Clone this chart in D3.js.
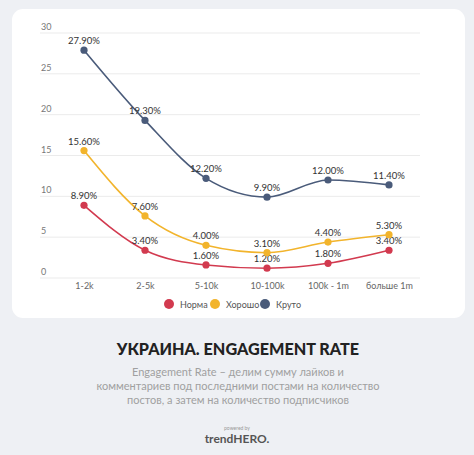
<!DOCTYPE html>
<html><head><meta charset="utf-8">
<script src="https://cdn.jsdelivr.net/npm/d3@7"></script>
<style>
html,body{margin:0;padding:0;background:#eef0f4;}
svg{display:block;}
</style></head>
<body>
<svg id="c" width="474" height="455"></svg>
<script>
const categories = ["1-2k","2-5k","5-10k","10-100k","100k - 1m","больше 1m"];
const norma  = [8.9, 3.4, 1.6, 1.2, 1.8, 3.4];
const horosho = [15.6, 7.6, 4.0, 3.1, 4.4, 5.3];
const kruto  = [27.9, 19.3, 12.2, 9.9, 12.0, 11.4];
const seriesNames = ["Норма","Хорошо","Круто"];
const colors = ["#d23a4f","#f2b42c","#4a5b7a"];
const yTicks = [0,5,10,15,20,25,30];

const series = [norma, horosho, kruto];
const svg = d3.select("#c");
svg.append("rect").attr("width",474).attr("height",455).attr("fill","#eef0f4");
svg.append("rect").attr("x",12).attr("y",9).attr("width",453).attr("height",309).attr("rx",11).attr("fill","#ffffff");

const x = d3.scalePoint().domain(categories).range([84,389]);
const y = d3.scaleLinear().domain([0,30]).range([278,33]);

const g = svg.append("g");
g.selectAll("line.grid").data(yTicks).join("line")
  .attr("x1",40).attr("x2",420)
  .attr("y1",d=>y(d)).attr("y2",d=>y(d))
  .attr("stroke","#ebebeb").attr("stroke-width",1);
g.selectAll("text.yl").data(yTicks).join("text")
  .attr("x",41).attr("y",d=>y(d)-3)
  .attr("font-family","Lato, 'Open Sans', sans-serif").attr("font-size",9)
  .attr("fill","#777").text(d=>d);

const xAxis = d3.axisBottom(x).tickSize(0).tickPadding(0);
const xg = svg.append("g").attr("transform","translate(0,283)").call(xAxis);
xg.select(".domain").remove();
xg.selectAll("text").attr("font-family","Lato, 'Open Sans', sans-serif").attr("font-size",9).attr("fill","#666");

const line = d3.line().x((d,i)=>x(categories[i])).y(d=>y(d)).curve(d3.curveMonotoneX);
series.forEach((s,k)=>{
  svg.append("path").datum(s).attr("d",line).attr("fill","none").attr("stroke",colors[k]).attr("stroke-width",1.6);
});
series.forEach((s,k)=>{
  const sg = svg.append("g");
  sg.selectAll("circle").data(s).join("circle")
    .attr("cx",(d,i)=>x(categories[i])).attr("cy",d=>y(d)).attr("r",3.6).attr("fill",colors[k]);
  sg.selectAll("text").data(s).join("text")
    .attr("x",(d,i)=>x(categories[i])).attr("y",d=>y(d)-6)
    .attr("text-anchor","middle")
    .attr("font-family","Lato, 'Open Sans', sans-serif").attr("font-size",9.5)
    .attr("fill","#333").text(d=>d.toFixed(2)+"%");
});

const legX = [169,215,265];
seriesNames.forEach((n,k)=>{
  svg.append("circle").attr("cx",legX[k]).attr("cy",304).attr("r",5).attr("fill",colors[k]);
  svg.append("text").attr("x",legX[k]+11).attr("y",307.5)
    .attr("font-family","Lato, 'Open Sans', sans-serif").attr("font-size",9).attr("fill","#555").text(n);
});

svg.append("text").attr("x",238).attr("y",355).attr("text-anchor","middle")
  .attr("font-family","Lato, sans-serif").attr("font-weight",900).attr("font-size",16.2)
  .attr("fill","#222").text("УКРАИНА. ENGAGEMENT RATE");
const sub = ["Engagement Rate – делим сумму лайков и","комментариев под последними постами на количество","постов, а затем на количество подписчиков"];
sub.forEach((t,i)=>{
  svg.append("text").attr("x",238).attr("y",376+i*14).attr("text-anchor","middle")
    .attr("font-family","Lato, sans-serif").attr("font-size",11).attr("fill","#a0a0a0").text(t);
});
svg.append("text").attr("x",237).attr("y",430).attr("text-anchor","middle")
  .attr("font-family","Lato, sans-serif").attr("font-size",5).attr("fill","#999").text("powered by");
svg.append("text").attr("x",237).attr("y",443).attr("text-anchor","middle")
  .attr("font-family","Lato, sans-serif").attr("font-weight",700).attr("font-size",12).attr("fill","#555").text("trendHERO.");
</script>
</body></html>
